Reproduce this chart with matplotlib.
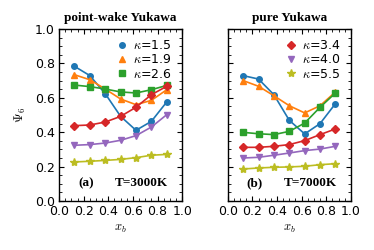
import matplotlib
matplotlib.use("Agg")
import matplotlib.pyplot as plt
from matplotlib.lines import Line2D
from matplotlib.ticker import MultipleLocator

plt.rcParams["mathtext.fontset"] = "cm"

xb = [0.125, 0.25, 0.375, 0.5, 0.625, 0.75, 0.875]
kappa_labels = ["1.5", "1.9", "2.6", "3.4", "4.0", "5.5"]

# panel (a): point-wake Yukawa, T=3000K
a_k15 = [0.783, 0.729, 0.624, 0.492, 0.411, 0.463, 0.576]
a_k19 = [0.734, 0.705, 0.651, 0.593, 0.560, 0.585, 0.647]
a_k26 = [0.674, 0.665, 0.651, 0.634, 0.628, 0.647, 0.672]
a_k34 = [0.438, 0.442, 0.459, 0.492, 0.545, 0.618, 0.667]
a_k40 = [0.324, 0.328, 0.337, 0.353, 0.380, 0.430, 0.502]
a_k55 = [0.227, 0.231, 0.236, 0.242, 0.252, 0.266, 0.271]

# panel (b): pure Yukawa, T=7000K
b_k15 = [0.729, 0.709, 0.618, 0.469, 0.390, 0.450, 0.566]
b_k19 = [0.700, 0.667, 0.612, 0.554, 0.512, 0.554, 0.634]
b_k26 = [0.399, 0.391, 0.386, 0.405, 0.453, 0.545, 0.628]
b_k34 = [0.312, 0.312, 0.318, 0.328, 0.351, 0.386, 0.419]
b_k40 = [0.250, 0.254, 0.266, 0.279, 0.293, 0.302, 0.318]
b_k55 = [0.186, 0.192, 0.196, 0.198, 0.202, 0.211, 0.217]

colors = ["tab:blue", "tab:orange", "tab:green", "tab:red", "tab:purple", "tab:olive"]
markers = ["o", "^", "s", "D", "v", "*"]
msizes = [4, 4.5, 4, 4, 4.5, 6]

fig = plt.figure(figsize=(3.74, 2.5), dpi=100)
axA = fig.add_axes([0.158, 0.196, 0.329, 0.688])
axB = fig.add_axes([0.609, 0.196, 0.329, 0.688])

panels = [
    (axA, [a_k15, a_k19, a_k26, a_k34, a_k40, a_k55], "point-wake Yukawa", "(a)", "T=3000K", [0, 1, 2]),
    (axB, [b_k15, b_k19, b_k26, b_k34, b_k40, b_k55], "pure Yukawa", "(b)", "T=7000K", [3, 4, 5]),
]

for ax, series, title, tag, temp, leg_idx in panels:
    for i, ys in enumerate(series):
        ax.plot(xb, ys, color=colors[i], marker=markers[i], ms=msizes[i], lw=1.2)
    ax.set_xlim(0, 1)
    ax.set_ylim(0, 1)
    ax.xaxis.set_major_locator(MultipleLocator(0.2))
    ax.xaxis.set_minor_locator(MultipleLocator(0.05))
    ax.yaxis.set_major_locator(MultipleLocator(0.2))
    ax.yaxis.set_minor_locator(MultipleLocator(0.05))
    ax.tick_params(which="both", direction="in", top=True, right=True, labelsize=9)
    ax.tick_params(which="major", length=3.5, width=0.8, pad=3)
    ax.tick_params(which="minor", length=2, width=0.6)
    for s in ax.spines.values():
        s.set_linewidth(1.0)
    ax.set_title(title, fontsize=9.5, fontweight="bold", family="Liberation Serif", pad=6)
    ax.set_xlabel(r"$x_b$", fontsize=9, labelpad=3)
    ax.text(0.22, 0.105, tag, transform=ax.transAxes, ha="center", va="center",
            fontsize=9.5, fontweight="bold", family="Liberation Serif")
    ax.text(0.67, 0.105, temp, transform=ax.transAxes, ha="center", va="center",
            fontsize=9.5, fontweight="bold", family="Liberation Serif")
    handles = [Line2D([], [], color=colors[i], marker=markers[i], ms=msizes[i], ls="none")
               for i in leg_idx]
    labels = [r"$\kappa$=" + kappa_labels[i] for i in leg_idx]
    ax.legend(handles, labels, loc="upper right", frameon=False, fontsize=9,
              handlelength=1.0, handletextpad=0.4, labelspacing=0.1,
              borderaxespad=0.5, borderpad=0.3)

axB.tick_params(labelleft=False)
axA.set_ylabel(r"$\Psi_6$", fontsize=9, labelpad=5)

fig.savefig("out.png", dpi=100)
